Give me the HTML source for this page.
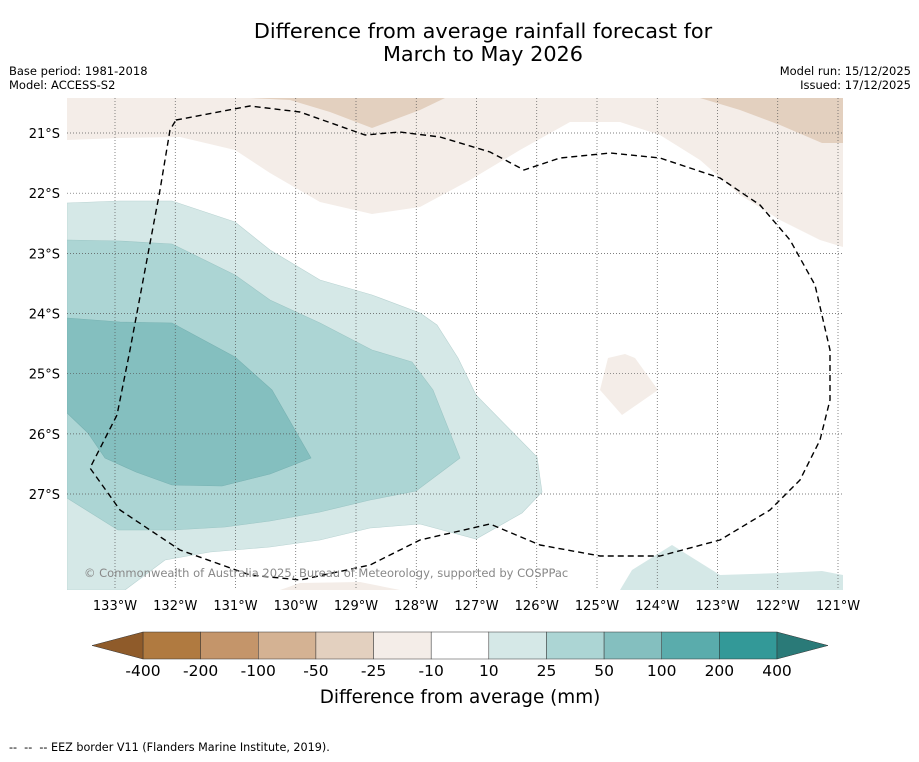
<!DOCTYPE html>
<html><head><meta charset="utf-8"><style>
body{margin:0;background:#fff;font-family:"DejaVu Sans","Liberation Sans",sans-serif;}
</style></head><body>
<svg width="919" height="758" xmlns="http://www.w3.org/2000/svg" style="font-family:'DejaVu Sans','Liberation Sans',sans-serif">
<rect width="919" height="758" fill="#fff"/>
<text x="483" y="38" text-anchor="middle" font-size="20.8">Difference from average rainfall forecast for</text>
<text x="483" y="61" text-anchor="middle" font-size="20.8">March to May 2026</text>
<text x="9" y="75" font-size="11.5">Base period: 1981-2018</text>
<text x="9" y="89" font-size="11.5">Model: ACCESS-S2</text>
<text x="911" y="75" font-size="11.5" text-anchor="end">Model run: 15/12/2025</text>
<text x="911" y="89" font-size="11.5" text-anchor="end">Issued: 17/12/2025</text>
<defs><clipPath id="mc"><rect x="67" y="98" width="776" height="492"/></clipPath></defs>
<g clip-path="url(#mc)">
<polygon fill="#f4ede8" points="67,98 843,98 843,247 820,240 780,220 740,195 700,160 660,135 620,122 570,122 520,150 470,180 420,207 372,214 320,202 270,173 235,150 180,137 120,138 67,140"/>
<polygon fill="#f4ede8" points="608,358 625,354 635,358 658,390 622,415 600,390"/>
<polygon fill="#f4ede8" points="280,590 300,583 360,582 400,590"/>
<polygon fill="#e3d0bf" points="250,98 445,98 420,110 372,128 330,112 290,100"/>
<polygon fill="#e3d0bf" points="700,98 843,98 843,143 822,143 780,125 740,110"/>
<polygon fill="#d5e8e7" stroke="#b9d3d2" stroke-width="0.6" points="67,203 120,201 172,201 235,222 270,250 320,280 372,295 420,313 437,325 458,358 476,395 537,457 542,492 522,513 476,539 420,524 370,528 320,540 270,547 210,552 165,560 125,590 67,590"/>
<polygon fill="#d5e8e7" points="620,590 632,570 672,545 720,575 780,573 822,571 843,575 843,590"/>
<polygon fill="#acd5d4" stroke="#9cc6c5" stroke-width="0.6" points="67,240 120,241 172,244 235,275 270,300 320,323 372,350 412,362 433,390 460,458 416,491 370,500 320,512 270,521 225,527 173,530 118,530 67,498"/>
<polygon fill="#84bfbf" stroke="#78b2b2" stroke-width="0.6" points="67,318 120,322 172,323 235,357 272,390 311,458 270,474 222,486 172,485 136,472 105,458 88,433 67,413"/>
<g id="grid" stroke="#555" stroke-width="0.7" stroke-dasharray="1,2"></g>
<polyline fill="none" stroke="#000" stroke-width="1.4" stroke-dasharray="6,4" stroke-linejoin="round" points="176,120 250,106 300,112 365,135 400,132 440,137 490,152 524,170 560,158 610,153 660,158 720,178 760,205 790,240 815,285 830,350 830,400 820,440 800,480 770,510 720,540 660,556 600,556 540,545 490,524 420,540 370,565 300,580 250,575 180,550 120,510 90,468 117,415 130,350 145,270 160,190 170,130 176,120"/>
<text x="84" y="577" font-size="11.5" fill="#888">© Commonwealth of Australia 2025, Bureau of Meteorology, supported by COSPPac</text>
</g>
<g id="axes" font-size="13"></g>
<g id="cbar"></g>
<text x="460" y="703" text-anchor="middle" font-size="18.4">Difference from average (mm)</text>
<text x="9" y="751" font-size="11.2" xml:space="preserve">--  --  -- EEZ border V11 (Flanders Marine Institute, 2019).</text>
<script>
const lons=[133,132,131,130,129,128,127,126,125,124,123,122,121];
const lats=[21,22,23,24,25,26,27];
const cbTicks=["-400","-200","-100","-50","-25","-10","10","25","50","100","200","400"];
const cbColors=["#b07a40","#c4956a","#d4b293","#e3d0bf","#f4ede8","#ffffff","#d5e8e7","#acd5d4","#84bfbf","#5aacac","#339998"];
const NS="http://www.w3.org/2000/svg";
const xL=l=>115+(133-l)*60.25, yL=l=>133+(l-21)*60.17;
const g=document.getElementById('grid'), ax=document.getElementById('axes'), cb=document.getElementById('cbar');
function mk(t,a,p){const e=document.createElementNS(NS,t);for(const k in a)e.setAttribute(k,a[k]);p.appendChild(e);return e;}
lons.forEach(l=>{
 const ln=mk('line',{x1:xL(l),x2:xL(l),y1:98,y2:590},g);
 
 
 const t=mk('text',{x:xL(l),y:610,'text-anchor':'middle'},ax);t.textContent=l+'°W';
 
 
});
lats.forEach(l=>{
 const ln=mk('line',{x1:67,x2:843,y1:yL(l),y2:yL(l)},g);
 
 
 const t=mk('text',{x:60,y:yL(l)+5,'text-anchor':'end'},ax);t.textContent=l+'°S';
 
 
});
const x0=143,w=(777-143)/cbColors.length,y0=632,h=27;
cbColors.forEach((c,i)=>{
 const r=mk('rect',{x:x0+i*w,y:y0,width:w,height:h,fill:c,stroke:'#333','stroke-width':0.5},cb);
 
 
});
const la=mk('polygon',{points:`${x0},${y0} 92,${y0+h/2} ${x0},${y0+h}`,fill:'#8f5b2a',stroke:'#333','stroke-width':0.5},cb);


const ra=mk('polygon',{points:`777,${y0} 828,${y0+h/2} 777,${y0+h}`,fill:'#2a7a78',stroke:'#333','stroke-width':0.5},cb);


cbTicks.forEach((t,i)=>{
 const e=mk('text',{x:x0+i*w,y:676,'text-anchor':'middle','font-size':15.5},cb);e.textContent=t;
 
 
});
</script>
</svg>
</body></html>
